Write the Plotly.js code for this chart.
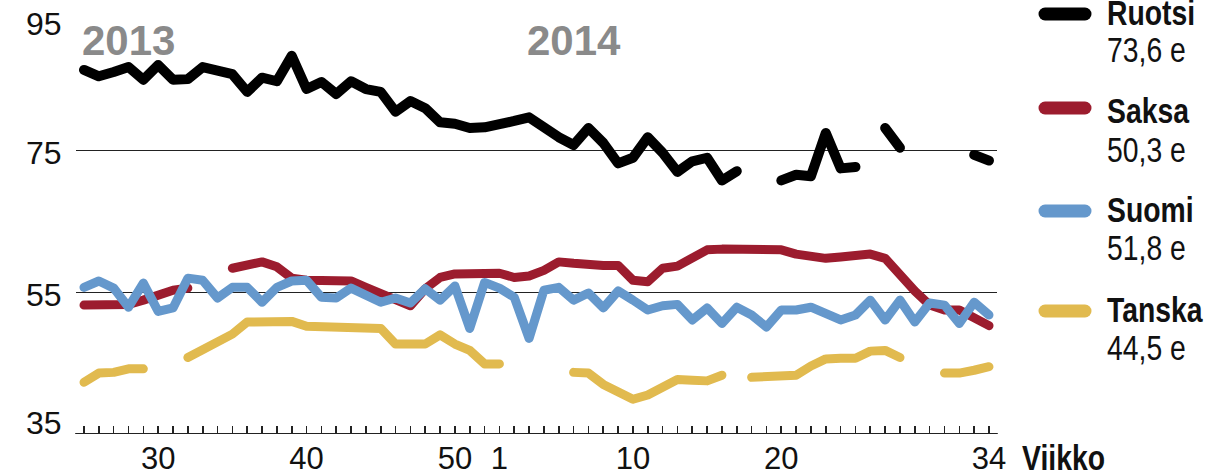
<!DOCTYPE html>
<html>
<head>
<meta charset="utf-8">
<script src="https://cdn.plot.ly/plotly-3.0.1.min.js"></script>
<style>
html,body{margin:0;padding:0;background:#fff;}
#chart{width:1208px;height:473px;}
.js-line{stroke-linecap:round !important;stroke-linejoin:round !important;}
.shapelayer path{stroke-linecap:round !important;}
</style>
</head>
<body>
<div id="chart"></div>
<script>
// ---- data ----
const weeks2013 = [25,26,27,28,29,30,31,32,33,34,35,36,37,38,39,40,41,42,43,44,45,46,47,48,49,50,51,52];
const weeks2014 = [1,2,3,4,5,6,7,8,9,10,11,12,13,14,15,16,17,18,19,20,21,22,23,24,25,26,27,28,29,30,31,32,33,34];

const seriesNames = ['Ruotsi','Saksa','Suomi','Tanska'];
const seriesColors = ['#000000','#9c1c2e','#6598cc','#e1ba4f'];

const ruotsi = [86.4,85.5,86.1,86.8,85.0,87.1,85.0,85.1,86.8,86.4,
  85.8,83.3,85.3,84.8,88.4,83.7,84.7,83.0,84.8,83.7,
  83.3,80.5,82.0,81.0,79.0,78.8,78.2,78.3,78.9,79.2,
  79.7,78.2,76.9,75.8,78.2,76.1,73.2,74.0,76.9,74.7,
  72.0,73.5,74.0,70.8,72.1,null,null,70.8,71.6,71.4,
  77.5,72.5,72.7,null,78.2,75.4,null,null,null,null,
  74.4,73.6];
const saksa = [53.2,53.2,53.2,53.3,53.9,54.6,55.3,55.6,null,null,
  58.4,59.0,59.3,58.6,57.0,56.7,56.7,56.7,56.6,55.7,
  54.9,54.2,53.1,55.5,57.1,57.6,57.7,57.7,57.7,57.1,
  57.3,58.1,59.3,59.1,58.8,58.8,58.8,56.7,56.5,58.4,
  58.7,59.7,61.0,61.1,61.1,61.2,61.2,61.0,60.4,60.0,
  59.8,60.0,60.1,60.4,59.8,57.4,55.2,53.2,52.5,52.5,
  51.4,50.3];
const suomi = [55.7,56.6,55.6,52.9,56.3,52.3,52.8,57.0,56.7,54.2,
  55.7,55.7,53.6,55.7,56.6,56.7,54.3,54.2,55.6,54.7,
  53.6,54.2,53.5,55.5,53.9,55.9,49.9,56.4,55.6,54.3,
  48.5,55.3,55.7,53.9,54.9,52.8,55.2,53.9,52.5,53.1,
  53.3,51.1,52.8,50.6,52.9,51.8,50.1,52.5,52.5,52.9,
  51.9,51.1,51.8,53.9,51.1,53.9,50.8,53.5,53.2,50.6,
  53.6,51.8];
const tanska = [42.3,43.6,43.7,44.2,44.2,null,null,45.8,47.0,48.0,
  49.1,50.8,50.9,50.9,50.9,50.2,50.1,50.1,50.1,50.1,
  49.9,47.7,47.7,47.7,49.0,47.7,46.8,44.9,44.9,null,
  null,null,null,43.7,43.6,42.0,41.0,39.9,40.5,41.6,
  42.7,42.6,42.5,43.3,null,43.0,43.0,43.0,43.3,44.6,
  45.6,45.7,45.7,46.7,46.8,45.8,null,null,43.6,43.6,
  44.0,44.5];

const tickYears = [2013,2013,2013,2014,2014,2014,2014];
const tickWeeks = [30,40,50,1,10,20,34];
const yTicks = [95,75,55,35];
const yearLabels = ['2013','2014'];
const yearLabelWeeks = [[2013,25],[2014,6]];
const xAxisLabel = 'Viikko';

// ---- build ----
const series = [ruotsi,saksa,suomi,tanska];
const nWeeks = weeks2013.length + weeks2014.length;
const xIdx = [];
for (let i = 0; i < nWeeks; i++) xIdx.push(i);
function weekPos(year, w){
  return year === 2013 ? weeks2013.indexOf(w) : weeks2013.length + weeks2014.indexOf(w);
}

const W = 1208, H = 473;
const M = {l:76, r:211, t:9, b:39};
const plotW = W - M.l - M.r, plotH = H - M.t - M.b;
const px2x = px => (px - M.l) / plotW;
const py2y = py => (H - M.b - py) / plotH;

const traces = series.map((s, k) => ({
  type:'scatter', mode:'lines', x:xIdx, y:s, name:seriesNames[k],
  line:{color:seriesColors[k], width: k === 0 ? 10 : 9},
  connectgaps:false, hoverinfo:'skip', showlegend:false
}));

const numFont = 'Liberation Sans, Arial, sans-serif';

const annotations = [];
const condensed = [];   // annotation indices drawn in a narrow (condensed) style
const yShift = [-15,-2,-3,11];
yTicks.forEach((v, k) => annotations.push({
  xref:'paper', yref:'y', x:0, y:v, xshift:-12, yshift:yShift[k],
  xanchor:'right', yanchor:'middle', showarrow:false,
  text:String(v), font:{family:numFont, size:32, color:'#111'}
}));

yearLabels.forEach((t, k) => {
  const pos = weekPos(yearLabelWeeks[k][0], yearLabelWeeks[k][1]);
  annotations.push({
    xref:'x', yref:'paper', x:pos, y:py2y(40), xshift: k === 0 ? -4 : 0,
    xanchor: k === 0 ? 'left' : 'center', yanchor:'middle', showarrow:false,
    text:t, font:{family:numFont, size:42, color:'#8a8a8a', weight:'bold'}
  });
});

condensed.push(annotations.length);
annotations.push({
  xref:'paper', yref:'paper', x:px2x(1020), y:py2y(458),
  xanchor:'left', align:'left', yanchor:'middle', showarrow:false,
  text:xAxisLabel, font:{family:numFont, size:35, color:'#111', weight:'bold'}
});

const swY = [14,108,211,311];
const nameY = [13,110,209,309];
const valY = [50,149,247,347];
const shapes = [];
seriesNames.forEach((n, k) => {
  const s = series[k];
  const last = s[s.length - 1];
  shapes.push({type:'line', xref:'paper', yref:'paper',
    x0:px2x(1045), x1:px2x(1085), y0:py2y(swY[k]), y1:py2y(swY[k]),
    line:{color:seriesColors[k], width:13}});
  condensed.push(annotations.length);
  annotations.push({xref:'paper', yref:'paper', x:px2x(1105), y:py2y(nameY[k]),
    xanchor:'left', align:'left', yanchor:'middle', showarrow:false,
    text:n, font:{family:numFont, size:35, color:'#111', weight:'bold'}});
  condensed.push(annotations.length);
  annotations.push({xref:'paper', yref:'paper', x:px2x(1105), y:py2y(valY[k]),
    xanchor:'left', align:'left', yanchor:'middle', showarrow:false,
    text:last.toFixed(1).replace('.', ',') + ' e', font:{family:numFont, size:35, color:'#111'}});
});

const layout = {
  width:W, height:H, margin:M,
  paper_bgcolor:'#fff', plot_bgcolor:'#fff',
  showlegend:false,
  xaxis:{
    range:[-0.54, nWeeks - 1 + 0.54], showgrid:false, zeroline:false,
    showline:false,
    tickmode:'array',
    tickvals:tickWeeks.map((w, k) => weekPos(tickYears[k], w)),
    ticktext:tickWeeks.map(String),
    ticks:'inside', ticklen:8, tickwidth:1.6, tickcolor:'#222',
    minor:{tickmode:'linear', tick0:0, dtick:1, ticks:'inside', ticklen:8, tickwidth:1.6, tickcolor:'#222', showgrid:false},
    tickfont:{family:numFont, size:31, color:'#111'},
    ticklabelstandoff:3,
    fixedrange:true
  },
  yaxis:{
    range:[35,95], tickmode:'array', tickvals:yTicks,
    showgrid:true, gridcolor:'#222', gridwidth:1.6,
    zeroline:false, showline:false, showticklabels:false, ticks:'',
    fixedrange:true
  },
  shapes:shapes.concat([{type:'line', xref:'paper', yref:'y', x0:0, x1:1, y0:35, y1:35, line:{color:'#222', width:2.2}, layer:'above'}]),
  annotations:annotations
};

Plotly.newPlot('chart', traces, layout, {staticPlot:true, displayModeBar:false}).then(gd => {
  // emulate a condensed typeface by compressing glyphs horizontally
  gd.querySelectorAll('g.annotation').forEach(g => {
    const idx = +g.getAttribute('data-index');
    if (condensed.indexOf(idx) < 0) return;
    const t = g.querySelector('text.annotation-text');
    if (!t) return;
    const w = t.getComputedTextLength();
    t.setAttribute('textLength', (w * 0.81).toFixed(1));
    t.setAttribute('lengthAdjust', 'spacingAndGlyphs');
  });
});
</script>
</body>
</html>
